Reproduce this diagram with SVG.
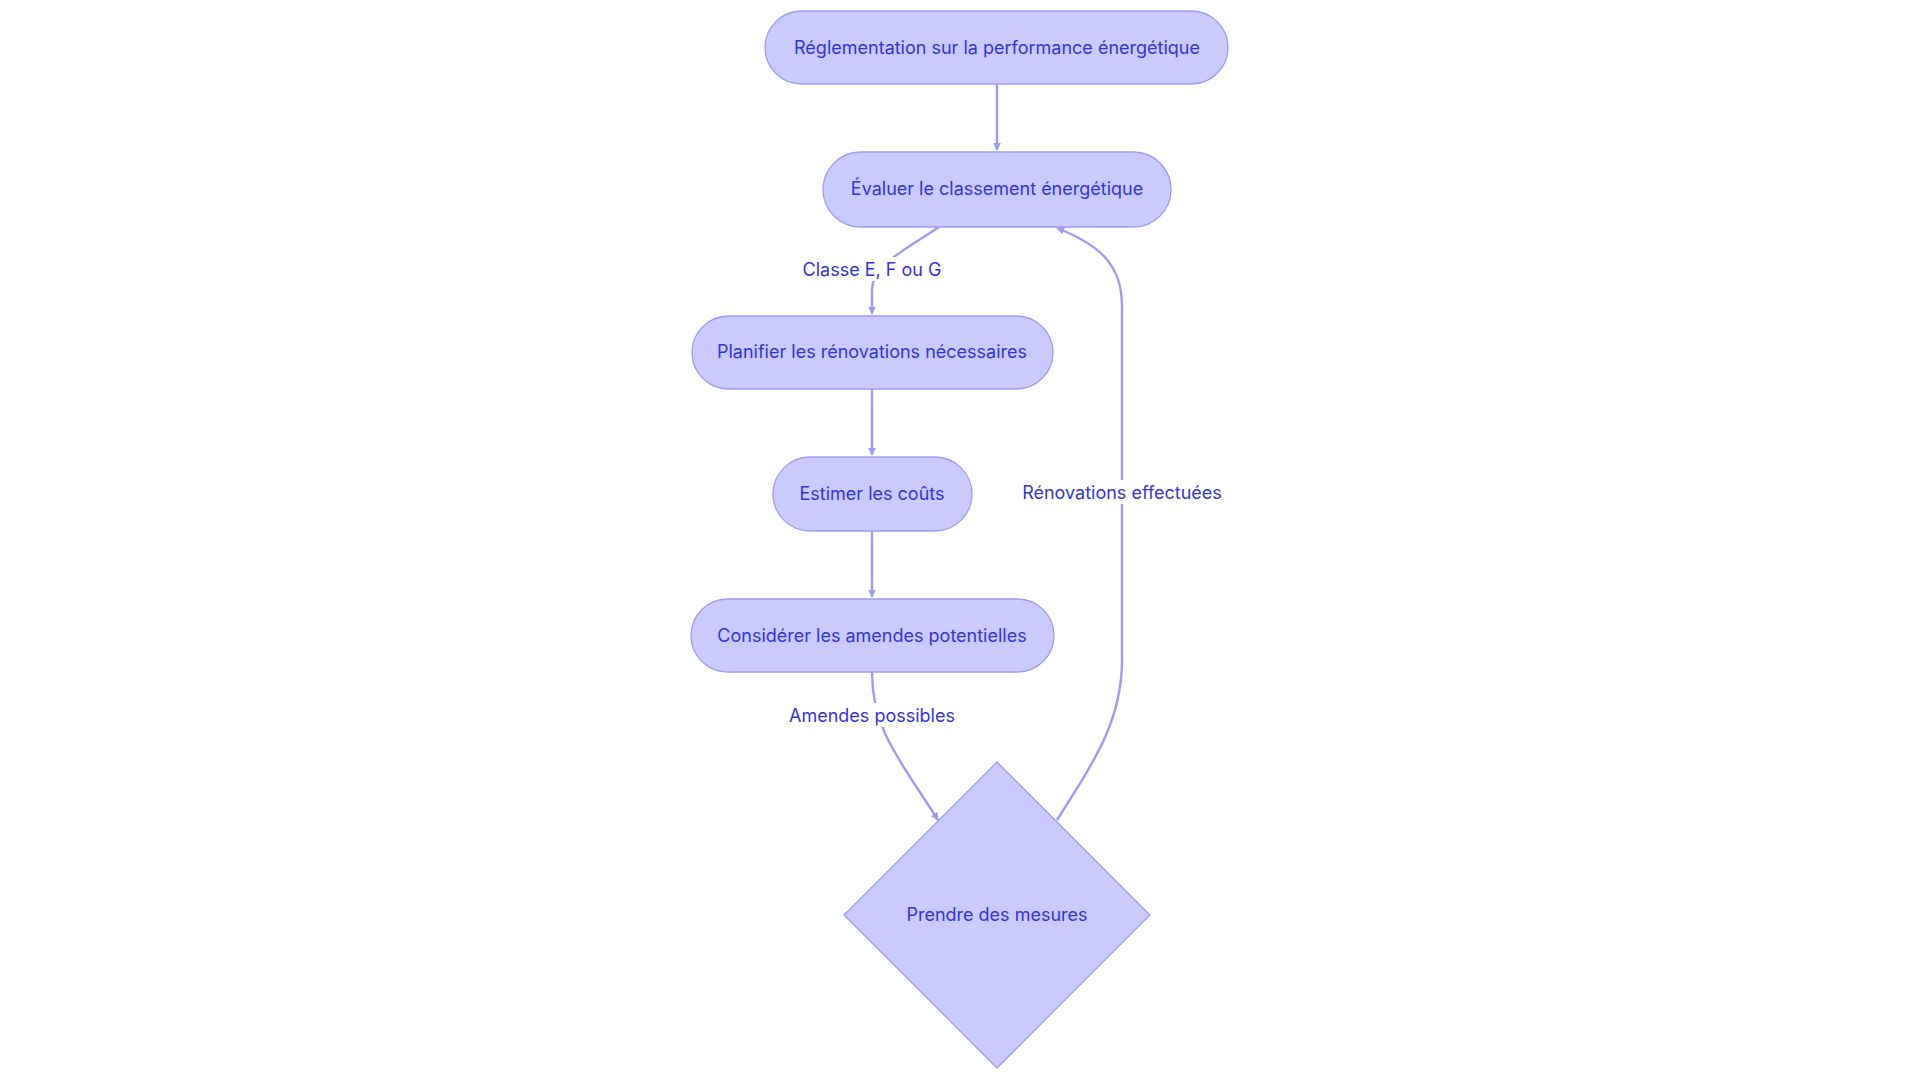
<svg xmlns="http://www.w3.org/2000/svg" width="1920" height="1083" viewBox="0 0 1920 1083">
<style>
.n{fill:#cacaff;stroke:#9c9cf2;stroke-width:1.3}
.t{font-family:Inter,"Liberation Sans",sans-serif;font-size:18px;fill:#3434d4;text-anchor:middle;dominant-baseline:central}
.e{fill:none;stroke:#9c9cf2;stroke-width:2.4}
.lb{fill:#ffffff}
</style>
<defs><marker id="a" viewBox="0 0 10 10" refX="9" refY="5" markerWidth="8" markerHeight="8" markerUnits="userSpaceOnUse" orient="auto"><path d="M0,0L10,5L0,10z" fill="#9c9cf2"/></marker></defs>
<rect width="1920" height="1083" fill="#fff"/>
<g id="edges">
<path class="e" d="M997,84V150" marker-end="url(#a)"/>
<path class="e" d="M939,227C905,250 872,265 872,290V314" marker-end="url(#a)"/>
<path class="e" d="M872,389V455" marker-end="url(#a)"/>
<path class="e" d="M872,531V597" marker-end="url(#a)"/>
<path class="e" d="M872,672C872,730 900,760 938,820" marker-end="url(#a)"/>
<path class="e" d="M1057,820C1095,760 1122,720 1122,660V306C1122,265 1100,245 1057,228" marker-end="url(#a)"/>
<rect class="lb" x="800" y="257" width="144" height="24"/><text class="t" x="872" y="269">Classe E, F ou G</text>
<rect class="lb" x="790" y="703" width="164" height="24"/><text class="t" x="872" y="715">Amendes possibles</text>
<rect class="lb" x="1018" y="480" width="208" height="24"/><text class="t" x="1122" y="492">Rénovations effectuées</text>
</g>
<g id="n1"><rect class="n" x="765" y="11" width="463" height="73" rx="36.5"/><text class="t" x="997" y="47">Réglementation sur la performance énergétique</text></g>
<g id="n2"><rect class="n" x="823" y="152" width="348" height="75" rx="37.5"/><text class="t" x="997" y="188">Évaluer le classement énergétique</text></g>
<g id="n3"><rect class="n" x="692" y="316" width="361" height="73" rx="36.5"/><text class="t" x="872" y="351">Planifier les rénovations nécessaires</text></g>
<g id="n4"><rect class="n" x="773" y="457" width="199" height="74" rx="37"/><text class="t" x="872" y="493">Estimer les coûts</text></g>
<g id="n5"><rect class="n" x="691" y="599" width="363" height="73" rx="36.5"/><text class="t" x="872" y="635">Considérer les amendes potentielles</text></g>
<g id="n6"><path class="n" d="M997,762L1150,915L997,1068L844,915Z"/><text class="t" x="997" y="914">Prendre des mesures</text></g>
</svg>
